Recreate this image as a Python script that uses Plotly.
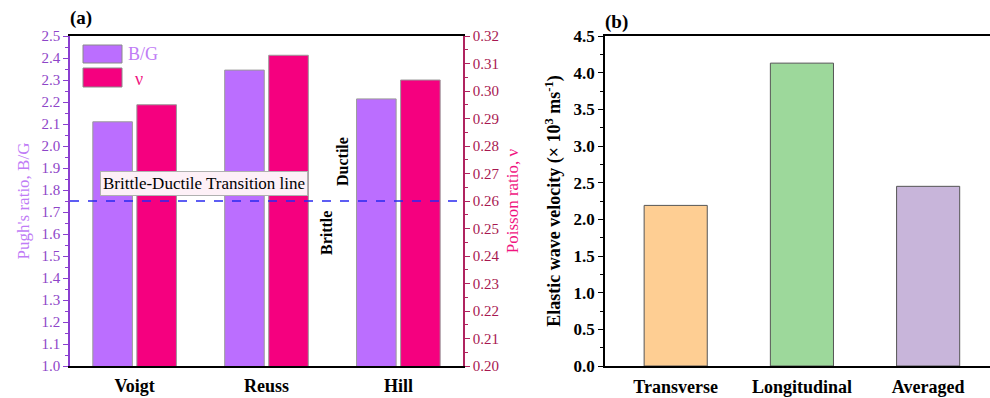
import plotly.graph_objects as go

# ---- data ----
methods = ["Voigt", "Reuss", "Hill"]
pugh_ratio = [2.11, 2.345, 2.214]
poisson_ratio = [0.295, 0.313, 0.304]
transition_bg = 1.75

wave_types = ["Transverse", "Longitudinal", "Averaged"]
wave_velocity = [2.19, 4.13, 2.45]
wave_colors = ["#FECE93", "#9DD89B", "#C8B5DA"]

SERIF = "Times New Roman, Liberation Serif, serif"
PURPLE = "#BB6EFF"
PINK = "#F5007F"

fig = go.Figure()

fig.add_trace(go.Bar(x=methods, y=pugh_ratio, name="B/G", width=0.30, offset=-0.317,
                     marker=dict(color=PURPLE, line=dict(color="#9A9A9A", width=1)),
                     xaxis="x", yaxis="y", showlegend=False))
fig.add_trace(go.Bar(x=methods, y=poisson_ratio, name="ν", width=0.30, offset=0.017,
                     marker=dict(color=PINK, line=dict(color="#9A9A9A", width=1)),
                     xaxis="x", yaxis="y2", showlegend=False))
fig.add_trace(go.Bar(x=wave_types, y=wave_velocity, width=0.5,
                     marker=dict(color=wave_colors, line=dict(color="#555555", width=1)),
                     xaxis="x2", yaxis="y3", showlegend=False))

ydom = [1 - 366 / 398, 1 - 36 / 398]

fig.update_layout(
    width=990, height=398,
    margin=dict(l=0, r=0, t=0, b=0),
    paper_bgcolor="white", plot_bgcolor="white",
    font=dict(family=SERIF, size=14, color="black"),
    barmode="overlay",
    xaxis=dict(domain=[70 / 990, 463 / 990], anchor="y", range=[-0.49, 2.49], automargin=False,
               showline=True, linecolor="black", linewidth=1.5, mirror=True,
               ticks="", showgrid=False, zeroline=False, ticklabelstandoff=3,
               tickfont=dict(family=SERIF, size=18, color="black", weight="bold")),
    yaxis=dict(domain=ydom, anchor="x", range=[1.0, 2.5], dtick=0.1, tick0=1.0, automargin=False,
               tickformat=".1f", showline=True, linecolor="#8A3FD0", linewidth=1.5,
               ticks="outside", ticklen=5, tickcolor="#8A3FD0", showgrid=False, zeroline=False,
               tickfont=dict(family=SERIF, size=15, color="#8E45C8"),
               minor=dict(dtick=0.05, ticks="outside", ticklen=3, tickcolor="#8A3FD0"),
               title=dict(text="Pugh's ratio, B/G", font=dict(family=SERIF, size=17, color="#C07CF6"),
                          standoff=8)),
    yaxis2=dict(overlaying="y", side="right", anchor="x", range=[0.20, 0.32], dtick=0.01,
                tick0=0.20, tickformat=".2f", showline=True, linecolor="#B0245F", linewidth=1.5,
                automargin=False,
                ticks="outside", ticklen=5, tickcolor="#B0245F", showgrid=False, zeroline=False,
                tickfont=dict(family=SERIF, size=15, color="#A81850"),
                minor=dict(dtick=0.005, ticks="outside", ticklen=3, tickcolor="#B0245F"),
                title=dict(text="Poisson ratio, ν", font=dict(family=SERIF, size=17, color="#F0147F"),
                           standoff=8)),
    xaxis2=dict(domain=[605 / 990, 1.0], anchor="y3", range=[-0.56, 2.49], automargin=False,
                showline=True, linecolor="black", linewidth=1.5, mirror=True,
                ticks="", showgrid=False, zeroline=False, ticklabelstandoff=4,
                tickfont=dict(family=SERIF, size=18, color="black", weight="bold")),
    yaxis3=dict(domain=ydom, anchor="x2", range=[0, 4.5], dtick=0.5, tickformat=".1f",
                automargin=False,
                showline=True, linecolor="black", linewidth=1.5,
                ticks="outside", ticklen=5, tickcolor="black", showgrid=False, zeroline=False,
                tickfont=dict(family=SERIF, size=17, color="black", weight="bold"),
                minor=dict(dtick=0.25, ticks="outside", ticklen=3, tickcolor="black"),
                title=dict(text="Elastic wave velocity (× 10<sup>3</sup> ms<sup>-1</sup>)",
                           font=dict(family=SERIF, size=18, color="black", weight="bold"),
                           standoff=8)),
)

# transition line
fig.add_shape(type="line", xref="x domain", yref="y", x0=0, x1=1, y0=transition_bg, y1=transition_bg,
              line=dict(color="#2828F0", width=1.5, dash="dash"))

# legend swatches
fig.add_shape(type="rect", xref="paper", yref="paper", x0=83 / 990, x1=122 / 990,
              y0=1 - 63 / 398, y1=1 - 45 / 398, fillcolor=PURPLE, line=dict(color="#8A8A8A", width=1))
fig.add_shape(type="rect", xref="paper", yref="paper", x0=83 / 990, x1=122 / 990,
              y0=1 - 87 / 398, y1=1 - 68 / 398, fillcolor=PINK, line=dict(color="#8A8A8A", width=1))

annos = [
    dict(text="B/G", x=126 / 990, y=1 - 54 / 398, xanchor="left", yanchor="middle",
         font=dict(family=SERIF, size=18, color="#C07CF6")),
    dict(text="ν", x=133 / 990, y=1 - 79 / 398, xanchor="left", yanchor="middle",
         font=dict(family=SERIF, size=18, color="#F0147F")),
    dict(text="(a)", x=68 / 990, y=1 - 18 / 398, xanchor="left", yanchor="middle",
         font=dict(family=SERIF, size=19, color="black", weight="bold")),
    dict(text="(b)", x=603 / 990, y=1 - 22 / 398, xanchor="left", yanchor="middle",
         font=dict(family=SERIF, size=19, color="black", weight="bold")),
    dict(text="Brittle-Ductile Transition line", x=204 / 990, y=1 - 183.5 / 398,
         xanchor="center", yanchor="middle", bgcolor="#FDF0F7", bordercolor="#B0B0B0",
         borderwidth=1, borderpad=2, font=dict(family=SERIF, size=17, color="black")),
    dict(text="Ductile", x=342 / 990, y=1 - 162 / 398, textangle=-90, xanchor="center",
         yanchor="middle", font=dict(family=SERIF, size=16, color="black", weight="bold")),
    dict(text="Brittle", x=326 / 990, y=1 - 233 / 398, textangle=-90, xanchor="center",
         yanchor="middle", font=dict(family=SERIF, size=16, color="black", weight="bold")),
]
for a in annos:
    fig.add_annotation(xref="paper", yref="paper", showarrow=False, **a)

fig.write_html("out.html")
